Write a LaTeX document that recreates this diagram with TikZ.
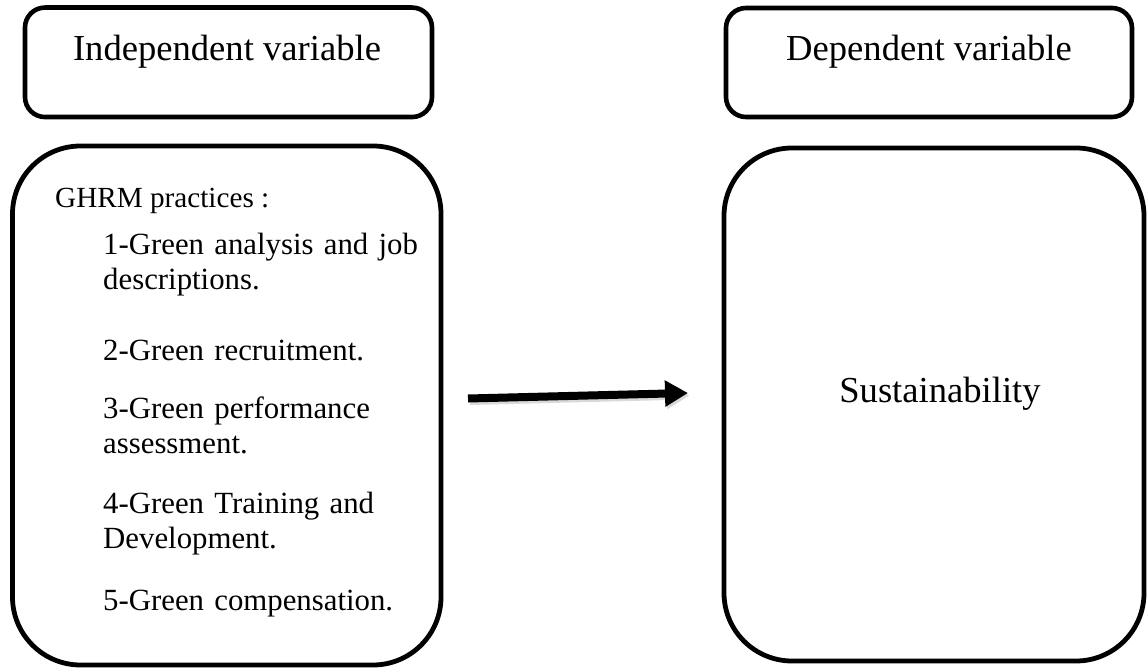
\documentclass[tikz,border=0pt]{standalone}
\usepackage{fontspec}
\setmainfont{Liberation Serif}
\usetikzlibrary{arrows.meta}
\tikzset{
  headbox/.style={draw, line width=4.6pt, rounded corners=20pt, inner sep=0pt},
  bigbox/.style={draw, line width=4.8pt, rounded corners=68pt, inner sep=0pt},
  headtext/.style={font=\fontsize{36.6}{40}\selectfont, inner sep=0pt, anchor=base},
  itemtext/.style={font=\fontsize{30.8}{35}\selectfont, inner sep=0pt, anchor=base west, align=left, text width=330pt},
  ghrmtext/.style={font=\fontsize{29.2}{32}\selectfont, inner sep=0pt, anchor=base west},
  bigarrow/.style={line width=8pt, -{Triangle[length=23pt,width=25pt]}},
}
\begin{document}
\begin{tikzpicture}[x=1pt,y=-1pt]
\useasboundingbox (0,0) rectangle (1148,668);
% header boxes
\node[headbox, minimum width=407pt, minimum height=109.5pt] (indep) at (228.5,62.3) {};
\node[headbox, minimum width=406pt, minimum height=109pt] (dep) at (929,62.5) {};
\node[headtext] (indeplbl) at (227,61) {Independent variable};
\node[headtext] (deplbl) at (929,61) {Dependent variable};
% big boxes
\node[bigbox, minimum width=428.5pt, minimum height=519pt] (ghrm) at (226.75,405.5) {};
\node[bigbox, minimum width=420pt, minimum height=513pt] (sust) at (934,404.5) {};
% left box contents
\node[ghrmtext] (title) at (55,208) {GHRM practices :};
\node[itemtext] (i1) at (103,255) {1-Green analysis and job\\descriptions.};
\node[itemtext] (i2) at (103,360) {2-Green recruitment.};
\node[itemtext] (i3) at (103,418) {3-Green performance\\assessment.};
\node[itemtext] (i4) at (103,513) {4-Green Training and\\Development.};
\node[itemtext] (i5) at (103,610) {5-Green compensation.};
% right box content
\node[headtext] (sustlbl) at (940,402) {Sustainability};
% arrow
\coordinate (arrS) at (468,398.5);
\coordinate (arrE) at (688,393);
\draw[bigarrow, draw=black!25, fill=black!25, opacity=0.6] ([shift={(1.5,2.5)}]arrS) -- ([shift={(1.5,2.5)}]arrE);
\draw[bigarrow] (arrS) -- (arrE);
\end{tikzpicture}
\end{document}
